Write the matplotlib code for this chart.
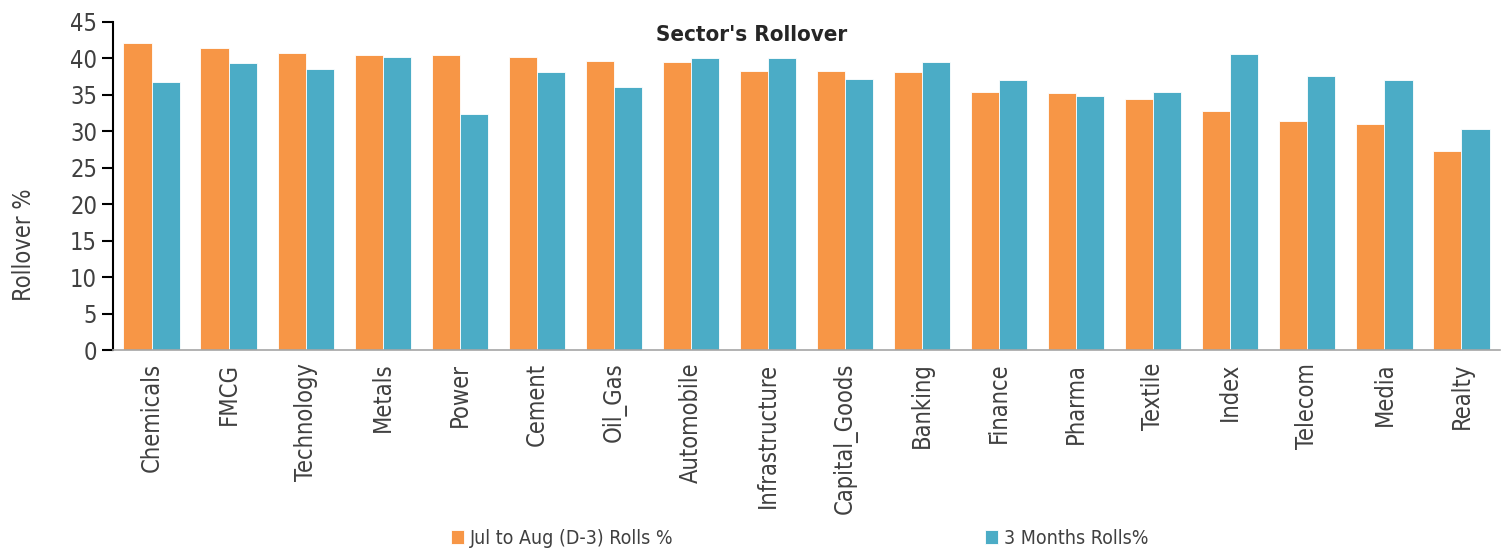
import numpy as np
import matplotlib.pyplot as plt

# Data
sectors = ['Chemicals', 'FMCG', 'Technology', 'Metals', 'Power', 'Cement', 'Oil_Gas',
           'Automobile', 'Infrastructure', 'Capital_Goods', 'Banking', 'Finance',
           'Pharma', 'Textile', 'Index', 'Telecom', 'Media', 'Realty']
jul_aug_rolls = [42.1, 41.4, 40.7, 40.5, 40.4, 40.2, 39.7, 39.5, 38.3, 38.3, 38.1,
                 35.4, 35.2, 34.5, 32.8, 31.4, 31.0, 27.3]
three_month_rolls = [36.7, 39.4, 38.5, 40.2, 32.4, 38.1, 36.1, 40.0, 40.0, 37.2, 39.5,
                     37.0, 34.9, 35.4, 40.6, 37.6, 37.0, 30.3]
yticks = [0, 5, 10, 15, 20, 25, 30, 35, 40, 45]

orange = '#F79646'
blue = '#4BACC6'
text_col = '#404040'
plt.rcParams['font.family'] = ['DejaVu Sans']
plt.rcParams['font.stretch'] = 'condensed'

fig = plt.figure(figsize=(15.03, 5.48), dpi=100)
ax = fig.add_axes([0.0752, 0.361, 0.9228, 0.599])

x = np.arange(len(sectors))
w = 0.365
ax.bar(x - w / 2, jul_aug_rolls, w, color=orange, edgecolor='white', linewidth=0.6,
       label='Jul to Aug (D-3) Rolls %')
ax.bar(x + w / 2, three_month_rolls, w, color=blue, edgecolor='white', linewidth=0.6,
       label='3 Months Rolls%')

ax.set_xlim(-0.5, len(sectors) - 0.5)
ax.set_ylim(0, 45)
ax.set_yticks(yticks)
ax.tick_params(axis='y', labelsize=17, labelcolor=text_col, color='black',
               length=8, width=1.5, direction='out')
ax.set_xticks(x)
ax.set_xticklabels(sectors, rotation=90, fontsize=17, color=text_col)
ax.tick_params(axis='x', length=0, pad=9)

for s in ['top', 'right']:
    ax.spines[s].set_visible(False)
ax.spines['left'].set_color('black')
ax.spines['left'].set_linewidth(1.5)
ax.spines['bottom'].set_color('#a6a6a6')
ax.spines['bottom'].set_linewidth(1.2)

ax.set_ylabel('Rollover %', fontsize=17, color=text_col)
ax.yaxis.set_label_coords(-0.0555, 0.32)
fig.text(0.5, 0.955, "Sector's Rollover", ha='center', va='top',
         fontsize=16, fontweight='bold', color='#262626')

fig.legend(loc='center', bbox_to_anchor=(0.532, 0.018), ncol=2, frameon=False,
           fontsize=14, labelcolor=text_col, handlelength=0.7, handleheight=0.7,
           handletextpad=0.3, columnspacing=16)

fig.savefig('out.png', dpi=100)
